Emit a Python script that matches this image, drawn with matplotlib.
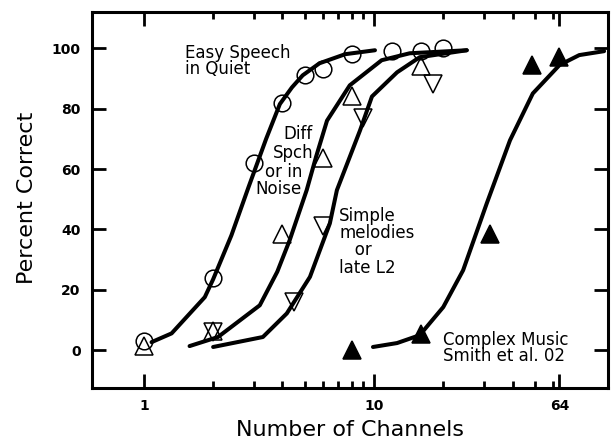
import matplotlib
matplotlib.use("Agg")
import matplotlib.pyplot as plt
from matplotlib.ticker import FixedLocator, NullFormatter

# data points
easy_x = [1, 2, 3, 4, 5, 6, 8, 12, 16, 20]
easy_y = [3, 24, 62, 82, 91, 93, 98, 99, 99, 100]

diff_x = [1, 2, 4, 6, 8, 16]
diff_y = [1.5, 6.5, 38.5, 63.5, 84, 94]

simple_x = [2, 4.5, 6, 9, 18]
simple_y = [6, 16, 41, 77, 88]

music_x = [8, 16, 32, 48.5, 64]
music_y = [0, 5.5, 38.5, 94.5, 97]

# fitted curves (traced)
easy_fit_x = [1.08, 1.32, 1.84, 2.0, 2.4, 2.85, 3.4, 3.9, 4.4, 4.9, 5.8, 7.5, 10.1]
easy_fit_y = [2.7, 5.6, 17.6, 23.5, 38, 54, 70, 81.5, 87, 91, 95, 98, 99.3]

diff_fit_x = [1.58, 2.1, 3.19, 3.8, 4.3, 5.1, 5.6, 6.25, 7.85, 10.8, 14.3, 25.3]
diff_fit_y = [1.4, 4.4, 14.9, 26, 36.4, 53, 64, 76, 87.7, 96, 98.3, 99.3]

simple_fit_x = [2.0, 3.29, 4.18, 5.27, 6.43, 6.9, 8.7, 9.8, 12.6, 15.8, 25.3]
simple_fit_y = [1.1, 4.4, 12.2, 24.3, 42, 53, 72.8, 84, 92, 97, 99.3]

music_fit_x = [9.9, 12.6, 15.8, 20, 24.4, 30.9, 39, 49, 64, 78, 100]
music_fit_y = [1.1, 2.4, 5, 14.3, 26.5, 48.6, 69.5, 85, 94.4, 97.7, 99]

major_x = [1, 10, 64]
minor_x = [2, 3, 4, 5, 6, 7, 8, 9, 20, 30, 40, 50, 60]
y_ticks = [0, 20, 40, 60, 80, 100]

fig = plt.figure(figsize=(6.12, 4.40), dpi=100)
ax = fig.add_axes([0.150, 0.118, 0.8435, 0.855])

lw = 2.9
for fx, fy in [(easy_fit_x, easy_fit_y), (diff_fit_x, diff_fit_y),
               (simple_fit_x, simple_fit_y), (music_fit_x, music_fit_y)]:
    ax.plot(fx, fy, color='k', lw=lw, solid_capstyle='round', zorder=2)

ax.plot(easy_x, easy_y, 'o', ms=12, mfc='none', mec='k', mew=1.1, zorder=3)
ax.plot(diff_x, diff_y, '^', ms=12.5, mfc='none', mec='k', mew=1.1, zorder=3)
ax.plot(simple_x, simple_y, 'v', ms=12.5, mfc='none', mec='k', mew=1.1, zorder=3)
ax.plot(music_x, music_y, '^', ms=12.5, mfc='k', mec='k', mew=1.1, zorder=3)

ax.set_xscale('log')
ax.set_xlim(0.594, 104)
ax.set_ylim(-12.5, 112)

ax.xaxis.set_major_locator(FixedLocator(major_x))
ax.xaxis.set_minor_locator(FixedLocator(minor_x))
ax.xaxis.set_minor_formatter(NullFormatter())
ax.set_xticks(major_x)
ax.set_xticklabels([str(v) for v in major_x])
ax.set_yticks(y_ticks)
ax.set_yticklabels([str(v) for v in y_ticks])
ax.yaxis.set_minor_locator(FixedLocator([]))

ax.tick_params(which='both', direction='in', top=True, right=True, width=2)
ax.tick_params(which='major', length=10, labelsize=10, pad=8)
ax.tick_params(which='minor', length=5)
for lab in ax.get_xticklabels() + ax.get_yticklabels():
    lab.set_fontweight('bold')
for s in ax.spines.values():
    s.set_linewidth(2.2)

ax.set_xlabel('Number of Channels', fontsize=16, va='center')
ax.xaxis.set_label_coords(0.5, -0.112)
ax.set_ylabel('Percent Correct', fontsize=16, va='center')
ax.yaxis.set_label_coords(-0.126, 0.505)

fs = 12
ax.text(1.51, 101.5, 'Easy Speech\nin Quiet', fontsize=fs, ha='left', va='top',
        linespacing=0.9)
diff_lines = ['Diff', 'Spch', 'or in', 'Noise']
diff_pos = [(4.02, 71.5), (3.64, 65.2), (3.36, 59), (3.04, 53.4)]
for t, (px, py) in zip(diff_lines, diff_pos):
    ax.text(px, py, t, fontsize=fs, ha='left', va='center')
ax.text(7.05, 47.5, 'Simple\nmelodies\n   or\nlate L2', fontsize=fs, ha='left',
        va='top', linespacing=0.95)
ax.text(19.95, 0.7, 'Complex Music\nSmith et al. 02', fontsize=fs, ha='left',
        va='center', linespacing=0.9)

fig.savefig('out.png', dpi=100)
